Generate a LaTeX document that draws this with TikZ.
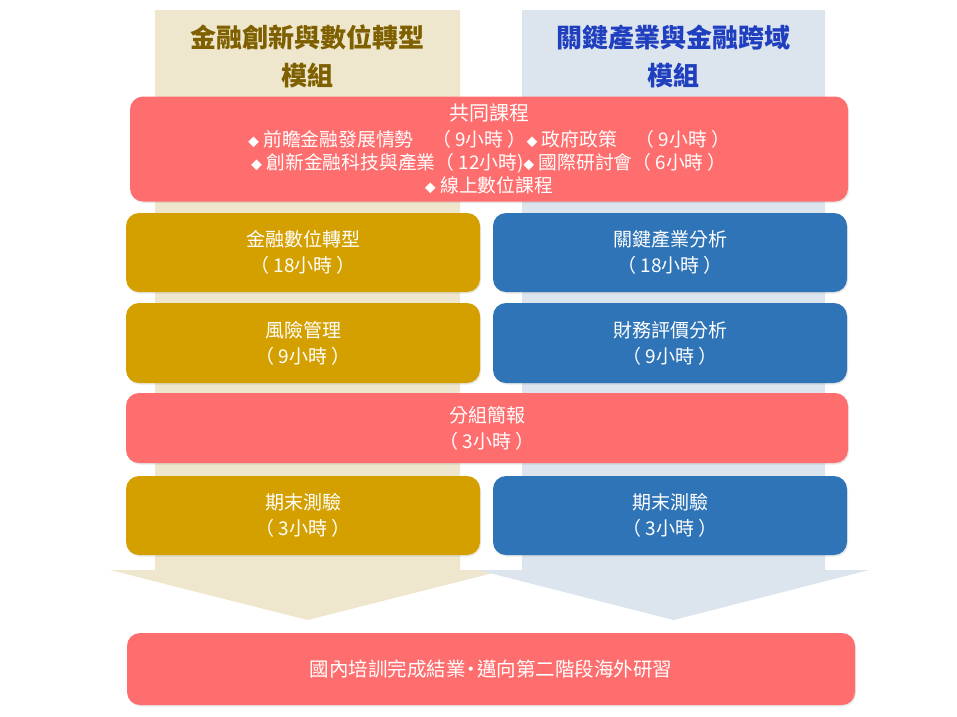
\documentclass[tikz,border=0pt]{standalone}
\usepackage{fontspec}
\setmainfont{Noto Sans CJK TC}
\usetikzlibrary{shadows}
\definecolor{pinkbox}{HTML}{FF6E6E}
\definecolor{goldbox}{HTML}{D4A000}
\definecolor{bluebox}{HTML}{2E74B6}
\definecolor{beigeshaft}{HTML}{EFE7CD}
\definecolor{blueshaft}{HTML}{DCE4EE}
\definecolor{goldtext}{HTML}{7F6000}
\definecolor{bluetext}{HTML}{1F3FBF}
\newcommand\bulletdm{\begingroup\fontsize{11}{23}\selectfont ◆\endgroup\ }
\begin{document}
\begin{tikzpicture}[x=1pt,y=-1pt,
  box/.style={rounded corners=13pt, text=white, align=center, inner sep=0pt,
    drop shadow={opacity=0.18,shadow xshift=1pt,shadow yshift=-1.5pt},
    font=\fontsize{19}{26}\selectfont},
  pinkstyle/.style={box, fill=pinkbox},
  goldstyle/.style={box, fill=goldbox, minimum width=354pt},
  bluestyle/.style={box, fill=bluebox, minimum width=354pt},
  hdr/.style={align=center, inner sep=0pt, font=\fontsize{26}{38}\selectfont\bfseries},
  shaftL/.style={fill=beigeshaft, draw=none},
  shaftR/.style={fill=blueshaft, draw=none}
]
\useasboundingbox[fill=white] (0,0) rectangle (957,716);

% big background arrows
\fill[shaftL] (155,10) -- (460,10) -- (460,570) -- (505,570) -- (307.5,620)
   -- (110,570) -- (155,570) -- cycle;
\fill[shaftR] (522,10) -- (825,10) -- (825,570) -- (869,570) -- (673.5,620)
   -- (478,570) -- (522,570) -- cycle;

% headers
\node[hdr, text=goldtext] (lhead) at (307.5,56) {金融創新與數位轉型\\模組};
\node[hdr, text=bluetext] (rhead) at (673.5,56) {關鍵產業與金融跨域\\模組};

% common course
\node[pinkstyle, minimum width=718pt, minimum height=105pt,
  font=\fontsize{18.8}{23}\selectfont] (common) at (489,149)
 {\fontsize{20}{31}\selectfont 共同課程\\[3pt]
  \fontsize{18.8}{23}\selectfont \bulletdm 前瞻金融發展情勢　（ 9小時 ）\bulletdm 政府政策　（ 9小時 ）\\
  \bulletdm 創新金融科技與產業（ 12小時)\bulletdm 國際研討會（ 6小時 ）\\
  \bulletdm 線上數位課程};

% module rows
\node[goldstyle, minimum height=79pt] (g1) at (303,252.5) {金融數位轉型\\（ 18小時 ）};
\node[bluestyle, minimum height=79pt] (b1) at (670,252.5) {關鍵產業分析\\（ 18小時 ）};
\node[goldstyle, minimum height=80pt] (g2) at (303,343) {風險管理\\（ 9小時 ）};
\node[bluestyle, minimum height=80pt] (b2) at (670,343) {財務評價分析\\（ 9小時 ）};

\node[pinkstyle, minimum width=722pt, minimum height=70pt] (group) at (487,428)
 {分組簡報\\（ 3小時 ）};

\node[goldstyle, minimum height=79pt] (g3) at (303,515.5) {期末測驗\\（ 3小時 ）};
\node[bluestyle, minimum height=79pt] (b3) at (670,515.5) {期末測驗\\（ 3小時 ）};

% final
\node[pinkstyle, minimum width=728pt, minimum height=72pt,
  font=\fontsize{19.5}{24}\selectfont] (final) at (491,669)
 {國內培訓完成結業\kern-4pt·\kern-4pt 邁向第二階段海外研習};
\end{tikzpicture}
\end{document}
